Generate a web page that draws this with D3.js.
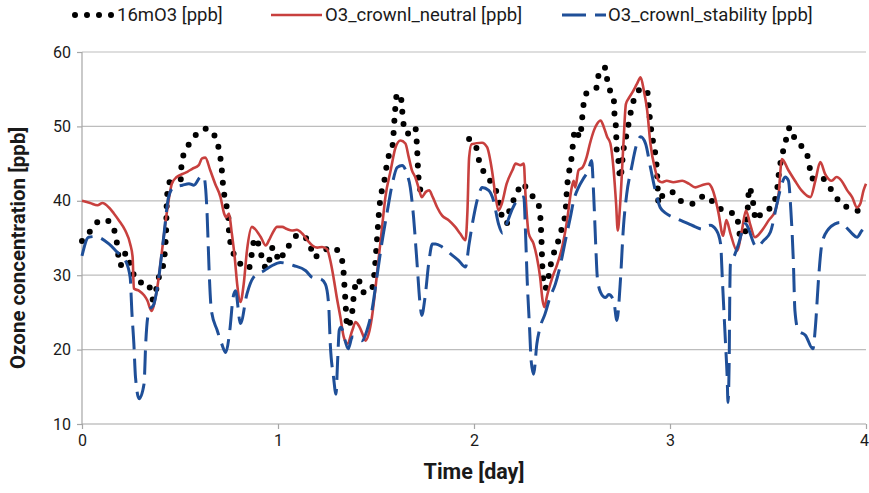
<!DOCTYPE html>
<html>
<head>
<meta charset="utf-8">
<script src="https://cdn.jsdelivr.net/npm/d3@7"></script>
<style>
  html, body { margin: 0; padding: 0; background: #fff; }
  svg text { font-family: "Liberation Sans Narrow", "Roboto", "DejaVu Sans Condensed", sans-serif; fill: #1a1a1a; }
</style>
</head>
<body>
<div id="chart"></div>
<script>
"use strict";

// time in hours since start, ozone in ppb
const obsT = [0, 1.24, 2.27, 3.2, 4.1, 4.7, 5.4, 6.1, 6.9, 8.1, 8.7, 9.4, 10.0, 10.2, 10.3, 10.35, 10.4, 10.8, 12.1, 12.2, 12.9, 13.9, 15.3,
  16.2, 16.8, 17.1, 17.25, 17.5, 17.9, 18.0, 18.3, 18.9, 20.4, 21.2, 22.6, 23.4, 24.2, 25.0, 25.4, 26.5, 27.8, 28.4, 29.4, 30.8, 31.9,
  32.2, 32.5, 33.1, 33.3, 33.8, 34.4, 35.4, 35.8, 36.1, 36.4, 37.1, 37.4, 38.0, 38.3, 38.5, 39.0, 39.2, 39.4, 39.8, 40.8, 41.0, 41.2,
  41.55, 41.8, 44, 47.4, 48.4, 48.65, 49.4, 50.2, 51.0, 51.4, 52.0, 52.4, 53.3, 53.7, 55.1, 56.0, 56.25, 56.4, 56.7, 57.6, 58.2, 58.8,
  59.2, 59.4, 59.9, 60.4, 61.0, 61.2, 61.4, 61.8, 63.1, 63.3, 64.1, 64.4, 65.1, 65.2, 65.4, 65.45, 65.7, 65.9, 66.3, 66.7, 67.5, 68.6,
  69.2, 69.4, 69.6, 69.9, 70.2, 70.4, 70.6, 71.2, 72.2, 73.3, 74.7, 76.3, 77.3, 78.2, 80.2, 80.5, 81.0, 81.5, 81.7, 82.2, 82.5, 83.3,
  84.4, 85.1, 85.3, 86.1, 86.7, 87.3, 88.2, 89.0, 89.3, 90.4, 91.8, 92.8, 94.3, 95.5, 96]
const obsV = [34.6, 36.2, 37.4, 37.3, 35.5, 31.3, 33.0, 30.7, 29.1, 28.9, 26.7, 29.7, 31.7, 34.0, 36.0, 38.5, 40.5, 42.6, 42.9, 45.2, 47.2, 48.8, 49.7,
  48.8, 46.7, 44.4, 42.4, 40.2, 38.0, 35.9, 33.8, 32.3, 30.9, 35.0, 30.9, 33.8, 31.9, 33.8, 34.0, 35.5, 34.5, 32.4, 33.2, 33.7, 31.8,
  27.5, 23.0, 25.2, 27.5, 29.5, 27.7, 27.9, 30.2, 34.4, 38.9, 43.2, 45.4, 47.2, 51.5, 54.0, 54.4, 52.2, 50.1, 49.0, 49.9, 47.7, 43.2,
  41.0, 40.5, null, 48.3, 46.8, 45.2, 43.6, 42.3, 40.3, 38.0, 36.9, 39.1, 40.9, 42.3, 40.7, 39.1, 35.1, 30.4, 28.2, 32.4, 34.2, 36.5,
  38.5, 41.8, 45.4, 49.6, 48.5, 50.6, 52.8, 54.5, 55.3, 57.4, 57.9, 55.5, 53.9, 51.7, 49.5, 47.2, 45.2, 43.0, 46.8, 49.0, 53.3, 55.1,
  54.8, 52.6, 50.4, 48.1, 46.3, 44.1, 39.6, 40.9, 41.2, 40.0, 39.6, 40.7, 39.8, 38.9, 38.0, 35.6, 35.1, 38.7, 41.8, 39.6, 37.4, 38.5,
  39.1, 41.4, 43.4, 47.7, 49.9, 48.3, 47.2, 45.4, 43.0, 43.2, 41.4, 39.8, 38.9, 38.5, 38.3]

const neutralT = [0, 1.0, 1.9, 2.5, 3.3, 3.9, 4.5, 5.3, 5.9, 6.2, 6.35, 7.0, 7.6, 8.0, 8.5, 9.0, 9.4, 9.8, 10.2, 10.6, 11.0, 11.6, 12.3,
  12.9, 13.5, 14.3, 14.7, 15.1, 15.7, 16.3, 16.96, 17.4, 17.65, 18.0, 18.3, 18.7, 19.0, 19.4, 19.8, 20.2, 20.8, 21.2, 21.9, 22.5, 22.9,
  23.3, 23.9, 24.5, 25.1, 25.7, 26.3, 26.96, 27.6, 28.2, 28.8, 29.4, 30.0, 30.4, 30.8, 31.2, 31.65, 32.05, 32.5, 33.1, 33.5, 33.9, 34.5,
  34.7, 35.1, 35.5, 35.9, 36.3, 36.7, 37.15, 37.8, 38.4, 39.0, 39.6, 40.0, 40.4, 40.8, 41.2, 41.6, 42.1, 42.5, 42.95, 43.5, 44.1, 44.9,
  45.7, 46.3, 46.95, 47.2, 47.4, 47.7, 48.98, 49.6, 50.2, 50.6, 51.0, 51.4, 52.0, 52.7, 53.1, 53.7, 54.1, 54.3, 54.7, 55.3, 55.7, 56.1,
  56.4, 56.65, 56.9, 57.6, 58.2, 58.8, 59.4, 59.9, 60.2, 60.4, 60.8, 61.3, 61.8, 62.2, 62.7, 63.1, 63.5, 63.9, 64.3, 64.7, 65.1, 65.4,
  65.6, 65.9, 66.3, 66.6, 66.9, 67.3, 67.95, 68.4, 68.8, 69.2, 69.6, 70.2, 70.6, 71.0, 71.6, 72.4, 73.5, 74.3, 75.1, 75.9, 76.7, 77.1,
  77.5, 77.95, 78.5, 78.9, 79.4, 80.2, 80.8, 81.3, 81.8, 82.4, 83.25, 84.1, 84.9, 85.3, 85.7, 86.5, 87.3, 88.1, 89.2, 89.8, 90.4, 91.0,
  91.8, 92.4, 93.0, 93.7, 94.3, 94.9, 95.3, 95.7, 96]
const neutralV = [40.0, 39.7, 39.4, 39.7, 39.1, 38.3, 37.4, 36.0, 34.2, 32.4, 28.2, 27.9, 27.3, 26.6, 25.2, 27.0, 29.7, 33.3, 36.9, 40.0, 42.3, 43.2, 43.6,
  43.9, 44.3, 44.8, 45.7, 45.8, 44.1, 42.3, 40.5, 38.3, 37.8, 38.3, 36.0, 32.4, 28.8, 26.4, 28.8, 33.3, 36.5, 36.2, 35.1, 34.0, 34.7,
  35.6, 36.5, 36.5, 36.2, 36.0, 36.1, 35.6, 34.7, 34.0, 33.7, 33.8, 33.5, 32.0, 29.7, 27.0, 24.3, 21.7, 20.8, 22.6, 23.7, 23.2, 21.7,
  21.2, 22.1, 24.35, 27.9, 32.0, 36.0, 40.5, 44.1, 47.2, 48.1, 47.7, 45.9, 44.1, 43.2, 41.8, 40.5, 41.2, 41.4, 40.5, 39.1, 38.0, 37.4,
  36.5, 35.6, 34.7, 38.7, 45.8, 47.6, 47.8, 47.2, 44.1, 40.9, 38.7, 39.6, 42.3, 44.1, 45.0, 44.8, 45.0, 40.9, 35.6, 34.2, 32.4, 29.7,
  26.6, 25.7, 27.0, 29.7, 31.5, 33.8, 37.4, 41.4, 42.7, 41.8, 44.1, 44.5, 45.9, 47.7, 49.5, 50.4, 50.8, 49.9, 48.6, 47.7, 44.1, 39.6,
  36.0, 39.6, 47.7, 53.0, 53.7, 54.4, 55.7, 56.6, 54.8, 52.2, 47.7, 44.1, 42.7, 42.5, 42.7, 42.5, 42.7, 42.3, 41.8, 42.1, 42.3, 41.8,
  40.5, 38.3, 35.3, 37.4, 35.6, 33.3, 36.0, 38.7, 36.9, 35.1, 36.0, 37.4, 38.7, 40.9, 45.6, 44.1, 42.7, 41.4, 40.5, 42.7, 45.2, 43.6,
  42.7, 43.2, 42.7, 41.4, 40.5, 39.1, 39.6, 41.4, 42.3]

const stabilityT = [0, 0.8, 1.6, 3.3, 4.3, 5.3, 5.9, 6.1, 6.35, 6.55, 7.0, 7.6, 7.8, 8.2, 8.8, 9.4, 10.0, 10.6, 11.2, 12.3, 13.1, 13.7,
  14.5, 14.9, 15.3, 15.45, 15.6, 15.85, 16.55, 17.1, 17.6, 18.1, 18.5, 18.8, 19.4, 20.2, 21.0, 22.3, 23.3, 24.3, 25.3, 25.9, 27.4,
  28.2, 29.2, 29.8, 30.2, 30.4, 30.8, 31.1, 31.3, 31.5, 31.7, 32.6, 33.1, 33.7, 34.3, 34.9, 35.5, 36.1, 36.7, 37.4, 38.0, 38.6, 39.2,
  39.8, 40.2, 40.6, 41.0, 41.4, 41.6, 42.0, 42.5, 42.9, 43.3, 44.1, 45.1, 46.1, 46.95, 47.4, 47.8, 48.6, 49.0, 49.8, 50.4, 51.0, 51.5,
  52.0, 52.7, 53.5, 54.1, 54.3, 54.5, 54.8, 55.0, 55.3, 55.7, 56.1, 56.7, 57.3, 57.96, 58.6, 59.2, 59.8, 60.2, 60.8, 61.4, 62.0, 62.4,
  62.65, 62.9, 63.1, 63.5, 64.1, 64.5, 65.1, 65.5, 65.9, 66.3, 66.7, 67.3, 67.95, 68.4, 69.0, 69.6, 70.2, 70.8, 71.6, 72.85, 74.3,
  75.1, 75.9, 76.9, 77.7, 78.2, 78.4, 78.6, 78.8, 79.0, 79.1, 79.25, 79.3, 79.4, 79.8, 80.4, 81.2, 82.6, 83.5, 84.3, 85.1, 85.7, 86.1,
  86.5, 86.8, 87.1, 87.3, 87.7, 88.6, 89.5, 89.8, 90.2, 90.6, 91.4, 92.2, 92.8, 93.5, 94.3, 94.9, 95.5, 96]
const stabilityV = [32.6, 35.1, 35.2, 34.2, 33.1, 32.0, 29.7, 25.2, 20.8, 16.3, 13.4, 15.4, 20.8, 25.2, 26.1, 29.7, 35.1, 40.5, 41.8, 42.1, 42.3, 42.1,
  43.2, 43.3, 38.7, 34.2, 29.7, 25.2, 22.6, 20.8, 19.6, 22.6, 27.0, 27.9, 23.5, 27.5, 29.7, 30.6, 31.3, 31.7, 31.5, 31.3, 30.6,
  29.7, 29.5, 28.8, 26.1, 20.8, 16.3, 14.0, 18.5, 22.6, 23.0, 20.1, 21.7, 21.6, 21.2, 22.6, 25.25, 29.7, 34.2, 38.7, 42.3, 44.5, 44.75,
  43.6, 41.8, 37.8, 32.0, 26.1, 24.6, 27.0, 32.0, 34.2, 34.2, 33.8, 32.9, 32.0, 31.1, 34.2, 36.9, 40.9, 41.8, 41.4, 40.0, 36.9, 35.65,
  36.9, 38.9, 40.3, 40.5, 36.0, 29.7, 23.0, 18.5, 16.7, 20.8, 23.0, 24.8, 27.0, 28.8, 31.5, 34.7, 37.8, 40.0, 41.8, 43.0, 44.1, 45.4,
  40.9, 34.2, 29.7, 27.7, 27.0, 27.4, 26.6, 23.9, 28.8, 36.5, 40.9, 44.5, 47.7, 48.6, 47.7, 44.5, 41.4, 39.1, 38.25, 37.6, 36.9,
  36.5, 36.2, 36.7, 36.0, 34.2, 29.7, 25.2, 20.8, 16.3, 12.9, 18.5, 25.2, 31.5, 32.4, 34.2, 36.9, 33.8, 34.7, 35.8, 39.6, 42.3, 43.2,
  42.7, 38.7, 32.0, 25.2, 22.6, 21.9, 20.1, 23.0, 29.7, 34.2, 36.2, 36.9, 37.1, 36.5, 35.6, 35.1, 36.0, 36.5]

const dayTicks = [0, 1, 2, 3, 4]
const ozoneTicks = [10, 20, 30, 40, 50, 60]
const seriesNames = ['16mO3 [ppb]', 'O3_crownl_neutral [ppb]', 'O3_crownl_stability [ppb]']

const W = 869, H = 493
const plot = { left: 82, right: 866, top: 52, bottom: 424 }

const svg = d3.select('#chart')
  .append('svg')
  .attr('width', W)
  .attr('height', H)

const x = d3.scaleLinear().domain([0, 4]).range([plot.left, plot.right])
  , y = d3.scaleLinear().domain([10, 60]).range([plot.bottom, plot.top])

// gridlines
svg.append('g')
  .selectAll('line')
  .data(ozoneTicks.slice(1))
  .join('line')
    .attr('x1', plot.left)
    .attr('x2', plot.right)
    .attr('y1', d => y(d))
    .attr('y2', d => y(d))
    .attr('stroke', '#bdbdbd')
    .attr('stroke-width', 1.2)

const yAxis = svg.append('g')
  .attr('transform', `translate(${plot.left},0)`)
  .call(d3.axisLeft(y).tickValues(ozoneTicks).tickSize(5).tickPadding(6))

const xAxis = svg.append('g')
  .attr('transform', `translate(0,${plot.bottom})`)
  .call(d3.axisBottom(x).tickValues(dayTicks).tickSize(5).tickPadding(6).tickFormat(d3.format('d')))

;[yAxis, xAxis].forEach(g => {
  g.select('.domain').attr('stroke', '#a6a6a6').attr('stroke-width', 1.2)
  g.selectAll('.tick line').attr('stroke', '#a6a6a6').attr('stroke-width', 1.2)
  g.selectAll('.tick text')
    .attr('font-size', 16)
    .attr('fill', '#1a1a1a')
    .style('font-family', '"Liberation Sans Narrow", Roboto, sans-serif')
})
yAxis.select('.domain').attr('d', `M0,${plot.top}V${plot.bottom}`)
xAxis.select('.domain').attr('d', `M${plot.left},0H${plot.right}`)
// last day label sits on the window edge; pull it in a little
xAxis.selectAll('.tick text').filter(d => d === 4).attr('dx', -2)

const line = d3.line()
  .defined(d => d[1] != null)
  .x(d => x(d[0] / 24))
  .y(d => y(d[1]))
  .curve(d3.curveMonotoneX)

const styles = [
  { color: '#000', width: 6, dash: '0 12', cap: 'round' },
  { color: '#c8403e', width: 2.6, dash: null, cap: 'butt' },
  { color: '#1f4f98', width: 3, dash: '24 9', cap: 'butt' },
]

const series = [
  d3.zip(obsT, obsV),
  d3.zip(neutralT, neutralV),
  d3.zip(stabilityT, stabilityV),
]

svg.append('g')
  .selectAll('path')
  .data(series)
  .join('path')
    .attr('d', line)
    .attr('fill', 'none')
    .attr('stroke', (d, i) => styles[i].color)
    .attr('stroke-width', (d, i) => styles[i].width)
    .attr('stroke-dasharray', (d, i) => styles[i].dash)
    .attr('stroke-linecap', (d, i) => styles[i].cap)
    .attr('stroke-linejoin', 'round')

// legend
const legendItems = [
  { x0: 75, x1: 112, tx: 117 },
  { x0: 271, x1: 322, tx: 325 },
  { x0: 562, x1: 606, tx: 608 },
]
const legend = svg.append('g')
legendItems.forEach((it, i) => {
  legend.append('line')
    .attr('x1', it.x0).attr('x2', it.x1)
    .attr('y1', 15).attr('y2', 15)
    .attr('stroke', styles[i].color)
    .attr('stroke-width', styles[i].width)
    .attr('stroke-dasharray', styles[i].dash)
    .attr('stroke-linecap', styles[i].cap)
  legend.append('text')
    .attr('x', it.tx)
    .attr('y', 15)
    .attr('dy', '0.35em')
    .attr('font-size', 18.5)
    .text(seriesNames[i])
})

svg.append('text')
  .attr('x', 474)
  .attr('y', 479)
  .attr('text-anchor', 'middle')
  .attr('font-size', 21.5)
  .attr('font-weight', 'bold')
  .text('Time [day]')

svg.append('text')
  .attr('transform', `translate(25,248) rotate(-90)`)
  .attr('text-anchor', 'middle')
  .attr('font-size', 20.5)
  .attr('font-weight', 'bold')
  .text('Ozone concentration [ppb]')
</script>
</body>
</html>
